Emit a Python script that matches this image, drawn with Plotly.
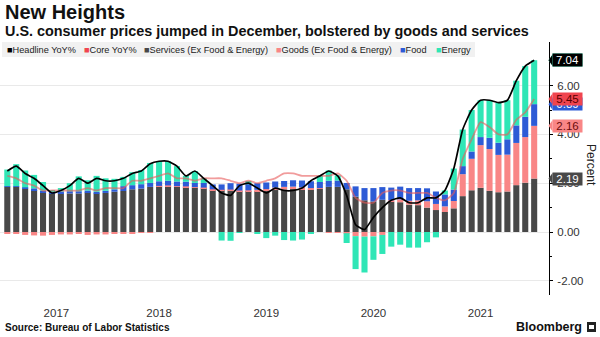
import pandas as pd
import plotly.graph_objects as go

# Monthly CPI, Jan 2017 - Dec 2021 (percent / percentage-point contributions)
months = pd.period_range("2017-01", "2021-12", freq="M").strftime("%b %Y").tolist()

headline = [
    2.5, 2.7, 2.4, 2.2, 1.9, 1.6, 1.7, 1.9, 2.2, 2.0, 2.2, 2.1,
    2.1, 2.2, 2.4, 2.5, 2.8, 2.9, 2.9, 2.7, 2.3, 2.5, 2.2, 1.9,
    1.6, 1.5, 1.9, 2.0, 1.8, 1.6, 1.8, 1.7, 1.7, 1.8, 2.1, 2.3,
    2.5, 2.3, 1.5, 0.3, 0.1, 0.6, 1.0, 1.3, 1.4, 1.2, 1.2, 1.4,
    1.4, 1.7, 2.6, 4.2, 5.0, 5.4, 5.4, 5.3, 5.4, 6.2, 6.8, 7.04,
]
core = [
    2.3, 2.2, 2.0, 1.9, 1.7, 1.7, 1.7, 1.7, 1.7, 1.8, 1.7, 1.8,
    1.8, 1.8, 2.1, 2.1, 2.2, 2.3, 2.4, 2.2, 2.2, 2.1, 2.2, 2.2,
    2.2, 2.1, 2.0, 2.1, 2.0, 2.1, 2.2, 2.4, 2.4, 2.3, 2.3, 2.3,
    2.3, 2.4, 2.1, 1.4, 1.2, 1.2, 1.6, 1.7, 1.7, 1.6, 1.6, 1.6,
    1.4, 1.3, 1.6, 3.0, 3.8, 4.5, 4.3, 4.0, 4.0, 4.6, 4.9, 5.45,
]
services = [
    1.85, 1.85, 1.78, 1.72, 1.62, 1.58, 1.58, 1.58, 1.58, 1.62, 1.58, 1.60,
    1.65, 1.68, 1.75, 1.78, 1.85, 1.88, 1.88, 1.86, 1.84, 1.82, 1.80, 1.72,
    1.72, 1.70, 1.68, 1.68, 1.68, 1.70, 1.72, 1.75, 1.78, 1.76, 1.75, 1.78,
    1.85, 1.85, 1.75, 1.45, 1.30, 1.25, 1.32, 1.24, 1.22, 1.12, 1.10, 1.00,
    0.90, 0.82, 0.97, 1.47, 1.71, 1.81, 1.69, 1.63, 1.66, 1.92, 2.02, 2.19,
]
goods = [
    -0.06, -0.08, -0.12, -0.14, -0.15, -0.12, -0.10, -0.10, -0.08, -0.12, -0.10, -0.10,
    -0.08, -0.06, -0.05, -0.04, -0.03, 0.01, 0.03, 0.02, 0.03, 0.02, 0.02, 0.03,
    0.01, 0.04, 0.02, 0.03, 0.05, 0.06, 0.10, 0.10, 0.08, 0.07, 0.05, 0.02,
    -0.02, -0.02, -0.05, -0.17, -0.19, -0.18, -0.12, 0.06, 0.12, 0.16, 0.20, 0.26,
    0.25, 0.23, 0.30, 0.90, 1.29, 1.75, 1.71, 1.53, 1.51, 1.73, 1.87, 2.16,
]
food = [
    0.03, 0.03, 0.05, 0.07, 0.07, 0.07, 0.08, 0.09, 0.09, 0.08, 0.07, 0.09,
    0.10, 0.20, 0.17, 0.18, 0.16, 0.19, 0.19, 0.19, 0.19, 0.17, 0.19, 0.20,
    0.22, 0.26, 0.28, 0.25, 0.27, 0.27, 0.25, 0.24, 0.26, 0.28, 0.28, 0.25,
    0.25, 0.26, 0.26, 0.42, 0.50, 0.55, 0.52, 0.52, 0.52, 0.52, 0.50, 0.53,
    0.51, 0.49, 0.47, 0.33, 0.30, 0.33, 0.46, 0.50, 0.63, 0.72, 0.83, 0.89,
]
energy = [
    0.68, 0.90, 0.69, 0.55, 0.36, 0.07, 0.14, 0.33, 0.61, 0.42, 0.65, 0.51,
    0.43, 0.38, 0.53, 0.58, 0.82, 0.82, 0.80, 0.63, 0.24, 0.49, 0.19, 0.00,
    -0.35, -0.36, -0.03, 0.13, -0.05, -0.25, -0.15, -0.33, -0.35, -0.31, -0.05, 0.25,
    0.42, 0.21, -0.40, -1.35, -1.47, -0.96, -0.78, -0.60, -0.52, -0.64, -0.64, -0.42,
    -0.22, 0.16, 0.86, 1.50, 1.70, 1.51, 1.54, 1.64, 1.60, 1.83, 2.08, 1.80,
]

year_labels = ["2017", "2018", "2019", "2020", "2021"]
year_pos = [5.5, 17.0, 29.0, 41.0, 53.0]          # month-index position of each year label
y_ticks = [-2, 0, 2, 4, 6]
y_ticktext = ["-2.00", "0.00", "2.00", "4.00", "6.00"]

C_HEAD = "#000000"
C_CORE = "#f0454f"
C_SERV = "#484848"
C_GOODS = "#f98686"
C_FOOD = "#2d5bd6"
C_ENERGY = "#2fe6b6"
FONT = "Liberation Sans, Arial, sans-serif"

x = list(range(len(months)))

# Pixel frame of the plotting area (figure is 600 x 337)
W, H = 600, 337
PL, PR, PT, PB = 0, 549, 42, 295
Y0_PX, PX_PER_UNIT = 232, 24.4
X0_PX, PX_PER_MONTH = 7.3, 8.93
y_range = [(Y0_PX - PB) / PX_PER_UNIT, (Y0_PX - PT) / PX_PER_UNIT]
x_range = [(PL - X0_PX) / PX_PER_MONTH, (PR - X0_PX) / PX_PER_MONTH]


def px_x(px):
    return (px - PL) / (PR - PL)


def px_y(py):
    return (PB - py) / (PB - PT)


fig = go.Figure()
for name, vals, col in [
    ("Services (Ex Food & Energy)", services, C_SERV),
    ("Goods (Ex Food & Energy)", goods, C_GOODS),
    ("Food", food, C_FOOD),
    ("Energy", energy, C_ENERGY),
]:
    fig.add_trace(go.Bar(x=x, y=vals, name=name, marker=dict(color=col, line=dict(width=0)),
                         width=0.68, customdata=months))

fig.add_trace(go.Scatter(x=x, y=core, name="Core YoY%", mode="lines",
                         line=dict(color="rgba(232,90,90,0.6)", width=1.8, shape="spline", smoothing=0.5)))
fig.add_trace(go.Scatter(x=x, y=headline, name="Headline YoY%", mode="lines",
                         line=dict(color=C_HEAD, width=1.7, shape="spline", smoothing=0.5)))

fig.update_layout(
    width=W, height=H,
    margin=dict(l=PL, r=W - PR, t=PT, b=H - PB, pad=0),
    barmode="relative",
    showlegend=False,
    plot_bgcolor="white", paper_bgcolor="white",
    font=dict(family=FONT, color="#222"),
    xaxis=dict(range=x_range, tickmode="array", tickvals=year_pos, ticktext=year_labels,
               showgrid=False, zeroline=False, showline=False, ticks="",
               tickfont=dict(size=11.5, color="#333"), ticklabelstandoff=9),
    yaxis=dict(side="right", range=y_range, tickmode="array", tickvals=y_ticks, ticktext=y_ticktext,
               showline=True, linecolor="#000", linewidth=1, ticks="outside", ticklen=3,
               tickcolor="#000", showgrid=True, gridcolor="#e9e9e9", gridwidth=1, zeroline=False,
               tickfont=dict(size=11.5, color="#333"), ticklabelstandoff=2,
               minor=dict(tickmode="array", tickvals=[-1, 1, 3, 5, 7], ticks="outside",
                          ticklen=2, tickcolor="#000", showgrid=False)),
)

annotations = []
shapes = []

# Titles
annotations.append(dict(xref="paper", yref="paper", x=px_x(3), y=px_y(11.5), xanchor="left", yanchor="middle",
                        text="<b>New Heights</b>", showarrow=False, font=dict(size=20, color="#111", family=FONT)))
annotations.append(dict(xref="paper", yref="paper", x=px_x(3), y=px_y(31), xanchor="left", yanchor="middle",
                        text="<b>U.S. consumer prices jumped in December, bolstered by goods and services</b>",
                        showarrow=False, font=dict(size=14.4, color="#111", family=FONT)))

# Legend strip
shapes.append(dict(type="rect", xref="paper", yref="paper", x0=px_x(2), x1=px_x(475), y0=px_y(57), y1=px_y(42),
                   fillcolor="#f1f1f1", line=dict(width=0), layer="below"))
legend_items = [
    ("Headline YoY%", C_HEAD, 5),
    ("Core YoY%", C_CORE, 82),
    ("Services (Ex Food & Energy)", C_SERV, 142),
    ("Goods (Ex Food & Energy)", C_GOODS, 274),
    ("Food", C_FOOD, 398),
    ("Energy", C_ENERGY, 434),
]
for name, col, lx in legend_items:
    annotations.append(dict(xref="paper", yref="paper", x=px_x(lx), y=px_y(49.5), xanchor="left",
                            yanchor="middle", showarrow=False,
                            text=f"<span style='color:{col}'>■</span>{name}",
                            font=dict(size=9.2, color="#222", family=FONT)))

# End-of-series value tags on the right axis
last = len(x) - 1
stack_serv = services[last]
stack_goods = stack_serv + goods[last]
stack_food = stack_goods + food[last]
stack_energy = stack_food + energy[last]
tags = [
    (stack_energy, energy[last], C_ENERGY, "#0d3b30"),
    (stack_food, food[last], C_FOOD, "#ffffff"),
    (stack_serv, services[last], C_SERV, "#ffffff"),
    (stack_goods, goods[last], C_GOODS, "#6b0d0d"),
    (core[last], core[last], C_CORE, "#5a0000"),
    (headline[last], headline[last], C_HEAD, "#ffffff"),
]
half = 5.5 / PX_PER_UNIT
for ypos, val, bg, fg in tags:
    shapes.append(dict(type="path", xref="paper", yref="y", layer="above",
                       path=f"M {px_x(548.5)},{ypos} L {px_x(552.5)},{ypos + half} "
                            f"L {px_x(552.5)},{ypos - half} Z",
                       fillcolor=bg, line=dict(width=0)))
    annotations.append(dict(xref="paper", yref="y", x=px_x(552), y=ypos, xanchor="left", yanchor="middle",
                            text=f"{val:.2f}", showarrow=False, bgcolor=bg, width=27, height=10,
                            borderpad=1, align="center", font=dict(size=11.5, color=fg, family=FONT)))

# Axis title
annotations.append(dict(xref="paper", yref="paper", x=px_x(591), y=px_y(165), xanchor="center", yanchor="middle",
                        text="Percent", textangle=90, showarrow=False, font=dict(size=12, color="#222", family=FONT)))

# Footer
annotations.append(dict(xref="paper", yref="paper", x=px_x(3), y=px_y(327), xanchor="left", yanchor="middle",
                        text="<b>Source: Bureau of Labor Statistics</b>", showarrow=False,
                        font=dict(size=10, color="#111", family=FONT)))
annotations.append(dict(xref="paper", yref="paper", x=px_x(584), y=px_y(327), xanchor="right", yanchor="middle",
                        text="<b>Bloomberg</b>", showarrow=False, font=dict(size=12.5, color="#111", family=FONT)))
shapes.append(dict(type="rect", xref="paper", yref="paper", x0=px_x(587), x1=px_x(596), y0=px_y(332),
                   y1=px_y(322), fillcolor="#222", line=dict(width=0)))
shapes.append(dict(type="rect", xref="paper", yref="paper", x0=px_x(589), x1=px_x(594), y0=px_y(329),
                   y1=px_y(325), fillcolor="#ffffff", line=dict(width=0)))

fig.update_layout(annotations=annotations, shapes=shapes)
fig.write_html("out.html")
